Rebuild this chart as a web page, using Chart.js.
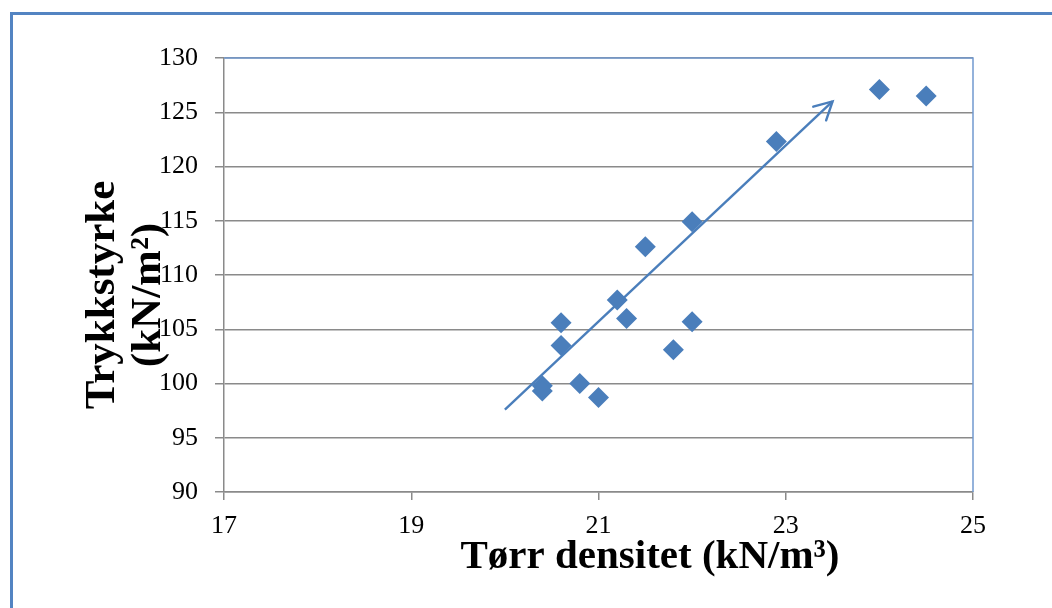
<!DOCTYPE html>
<html><head><meta charset="utf-8">
<script src="https://cdn.jsdelivr.net/npm/chart.js@4/dist/chart.umd.min.js"></script>
<style>html,body{margin:0;padding:0;background:#fff;}#wrap{width:1052px;height:608px;}</style>
</head><body><div id="wrap"><canvas id="c" width="1052" height="608"></canvas></div>
<script>
const densitet    = [20.4, 20.4, 20.6, 20.6, 20.8, 21.0, 21.2, 21.3, 21.5, 21.8, 22.0, 22.0, 22.9, 24.0, 24.5];
const trykkstyrke = [99.8, 99.3, 105.6, 103.5, 100.0, 98.7, 107.7, 106.0, 112.6, 103.1, 105.7, 114.9, 122.3, 127.1, 126.5];
const arrowX = [20.0, 23.5];
const arrowY = [97.6, 126.0];
const xTicks = [17, 19, 21, 23, 25];
const yTicks = [90, 95, 100, 105, 110, 115, 120, 125, 130];
const xTitle = 'Tørr densitet (kN/m³)';
const yTitleLines = ['Trykkstyrke', '(kN/m²)'];

const BLUE = '#4A7EBB';
const GRID = '#8a8a8a';

const framePlugin = {
  id: 'frame',
  beforeDraw(chart) {
    const ctx = chart.ctx;
    ctx.save();
    ctx.fillStyle = '#fff';
    ctx.fillRect(0, 0, chart.width, chart.height);
    ctx.strokeStyle = '#5384C2';
    ctx.lineWidth = 3;
    ctx.beginPath();
    ctx.moveTo(11.5, chart.height);
    ctx.lineTo(11.5, 13.5);
    ctx.lineTo(chart.width, 13.5);
    ctx.stroke();
    ctx.restore();
  },
  afterDraw(chart) {
    const ctx = chart.ctx, a = chart.chartArea;
    ctx.save();
    ctx.strokeStyle = '#7199D0';
    ctx.lineWidth = 1.5;
    ctx.beginPath();
    ctx.moveTo(a.left, a.top);
    ctx.lineTo(a.right, a.top);
    ctx.lineTo(a.right, a.bottom);
    ctx.stroke();
    ctx.restore();
  }
};

const arrowPlugin = {
  id: 'arrowHead',
  afterDatasetsDraw(chart) {
    const xs = chart.scales.x, ys = chart.scales.y, ctx = chart.ctx;
    const n = arrowX.length;
    const x0 = xs.getPixelForValue(arrowX[n - 2]), y0 = ys.getPixelForValue(arrowY[n - 2]);
    const x1 = xs.getPixelForValue(arrowX[n - 1]), y1 = ys.getPixelForValue(arrowY[n - 1]);
    const back = Math.atan2(y0 - y1, x0 - x1);
    const len = 20, spread = 28 * Math.PI / 180;
    ctx.save();
    ctx.strokeStyle = BLUE;
    ctx.lineWidth = 2.4;
    ctx.lineCap = 'round';
    ctx.beginPath();
    ctx.moveTo(x1 + len * Math.cos(back + spread), y1 + len * Math.sin(back + spread));
    ctx.lineTo(x1, y1);
    ctx.lineTo(x1 + len * Math.cos(back - spread), y1 + len * Math.sin(back - spread));
    ctx.stroke();
    ctx.restore();
  }
};

const titlePlugin = {
  id: 'axisTitles',
  afterDraw(chart) {
    const ctx = chart.ctx, a = chart.chartArea;
    ctx.save();
    ctx.fillStyle = '#000';
    ctx.font = 'bold 41px "Liberation Serif"';
    ctx.textAlign = 'center';
    ctx.textBaseline = 'alphabetic';
    ctx.fillText(xTitle, a.left + 426, a.bottom + 76);
    ctx.font = 'bold 43px "Liberation Serif"';
    ctx.translate(a.left - 110, a.top + 237);
    ctx.rotate(-Math.PI / 2);
    yTitleLines.forEach((t, i) => ctx.fillText(t, 0, i * 46));
    ctx.restore();
  }
};

new Chart(document.getElementById('c'), {
  data: {
    datasets: [
      {
        type: 'scatter',
        data: densitet.map((x, i) => ({ x, y: trykkstyrke[i] })),
        pointStyle: 'rectRot',
        pointRadius: 10.5,
        pointHoverRadius: 10.5,
        backgroundColor: BLUE,
        borderColor: BLUE,
        borderWidth: 0
      },
      {
        type: 'line',
        data: arrowX.map((x, i) => ({ x, y: arrowY[i] })),
        borderColor: BLUE,
        borderWidth: 2.4,
        pointRadius: 0,
        fill: false
      }
    ]
  },
  options: {
    responsive: false,
    animation: false,
    devicePixelRatio: 1,
    layout: { padding: { left: 0, top: 58, right: 79, bottom: 0 } },
    plugins: { legend: { display: false }, tooltip: { enabled: false } },
    scales: {
      x: {
        type: 'linear',
        min: 17, max: 25,
        afterBuildTicks: s => { s.ticks = xTicks.map(v => ({ value: v })); },
        afterFit: s => { s.height = 116; },
        grid: { drawOnChartArea: false, tickLength: 8, color: GRID, lineWidth: 1.5 },
        border: { color: GRID, width: 1.5 },
        ticks: { color: '#000', font: { family: 'Liberation Serif', size: 26 }, padding: 11, maxRotation: 0 }
      },
      y: {
        type: 'linear',
        min: 90, max: 130,
        afterBuildTicks: s => { s.ticks = yTicks.map(v => ({ value: v })); },
        afterFit: s => { s.width = 224; },
        grid: { color: GRID, lineWidth: 1.5, tickLength: 9 },
        border: { color: GRID, width: 1.5 },
        ticks: { color: '#000', font: { family: 'Liberation Serif', size: 26 }, padding: 17 }
      }
    }
  },
  plugins: [framePlugin, arrowPlugin, titlePlugin]
});
</script></body></html>
